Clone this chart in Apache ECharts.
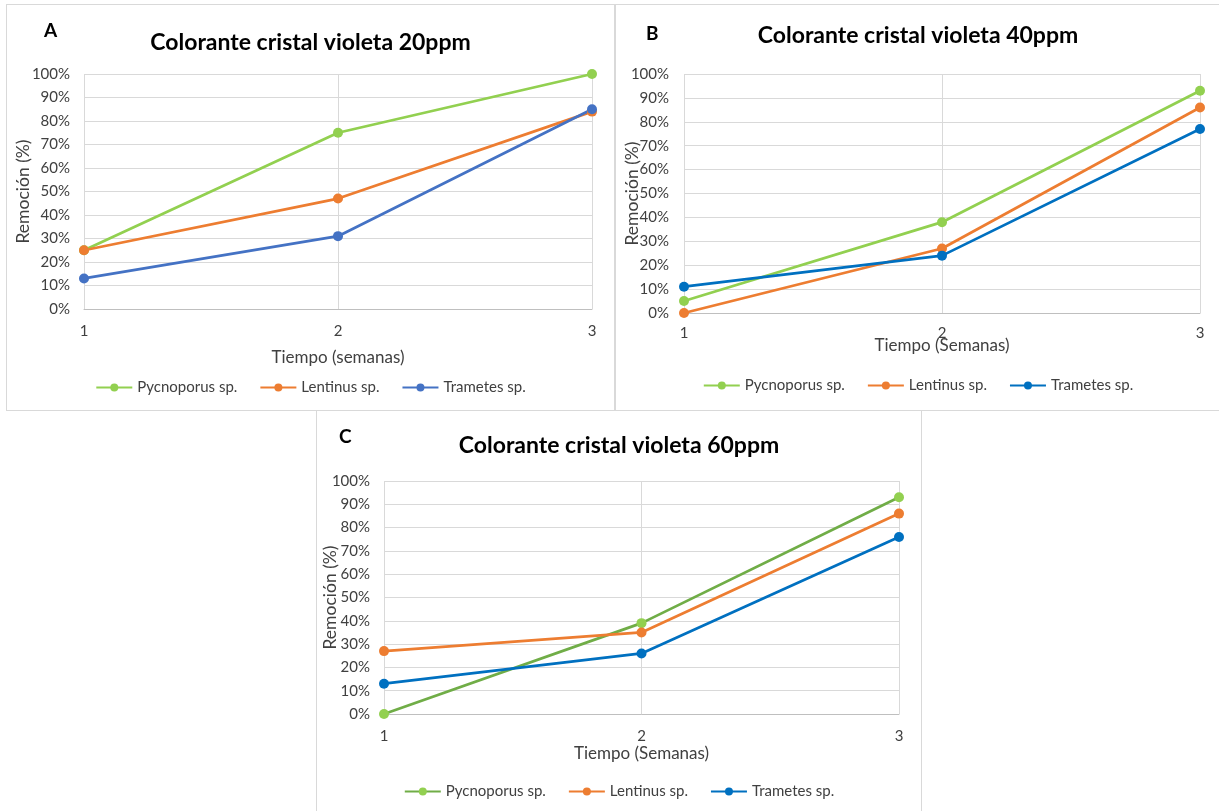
<!DOCTYPE html>
<html>
<head>
<meta charset="utf-8">
<script src="https://cdn.jsdelivr.net/npm/echarts@6/dist/echarts.min.js"></script>
<style>
html,body{margin:0;padding:0;background:#fff;width:1219px;height:811px;overflow:hidden;}
.panel{position:absolute;box-sizing:border-box;border:1px solid #d9d9d9;background:#fff;}
</style>
</head>
<body>
<div id="pA" class="panel" style="left:6px;top:4px;width:609px;height:407px;"></div>
<div id="pB" class="panel" style="left:615px;top:4px;width:606px;height:407px;"></div>
<div id="pC" class="panel" style="left:316px;top:410px;width:606px;height:403px;"></div>
<script>
// ---- data ----
const weeks = ['1', '2', '3'];
const seriesNames = ['Pycnoporus sp.', 'Lentinus sp.', 'Trametes sp.'];
const yMin = 0, yMax = 100, yStep = 10;

const pycnoA = [25, 75, 100];
const lentA  = [25, 47, 84];
const tramA  = [13, 31, 85];

const pycnoB = [5, 38, 93];
const lentB  = [0, 27, 86];
const tramB  = [11, 24, 77];

const pycnoC = [0, 39, 93];
const lentC  = [27, 35, 86];
const tramC  = [13, 26, 76];

const titles = ['Colorante cristal violeta 20ppm', 'Colorante cristal violeta 40ppm', 'Colorante cristal violeta 60ppm'];
const letters = ['A', 'B', 'C'];
const xNames = ['Tiempo (semanas)', 'Tiempo (Semanas)', 'Tiempo (Semanas)'];
const yName = 'Remoción (%)';

// ---- styling / layout ----
const FONT = 'Lato, "Open Sans", sans-serif';
const panels = [
  { id: 'pA', data: [pycnoA, lentA, tramA], lineColors: ['#92D050', '#ED7D31', '#4472C4'], dotColors: ['#92D050', '#ED7D31', '#4472C4'],
    grid: { left: 77, right: 22, top: 69, bottom: 101 }, titleTop: 21, letter: [44, 26], xGap: 40, labelMargin: 15, yMargin: 14, yGap: 52, legendTop: 370 },
  { id: 'pB', data: [pycnoB, lentB, tramB], lineColors: ['#92D050', '#ED7D31', '#0070C0'], dotColors: ['#92D050', '#ED7D31', '#0070C0'],
    grid: { left: 68, right: 20, top: 69, bottom: 97 }, titleTop: 14, letter: [37, 29], xGap: 24, labelMargin: 13, yMargin: 15, yGap: 43, legendTop: 368 },
  { id: 'pC', data: [pycnoC, lentC, tramC], lineColors: ['#70AD47', '#ED7D31', '#0070C0'], dotColors: ['#92D050', '#ED7D31', '#0070C0'],
    grid: { left: 67, right: 22, top: 70, bottom: 98 }, titleTop: 18, letter: [29, 26], xGap: 31, labelMargin: 15, yMargin: 14, yGap: 45, legendTop: 368 }
];

panels.forEach(function (p, i) {
  const chart = echarts.init(document.getElementById(p.id), null, { renderer: 'canvas' });
  const grid = Object.assign({ containLabel: false, outerBoundsMode: 'none' }, p.grid);
  chart.setOption({
    animation: false,
    textStyle: { fontFamily: FONT },
    title: {
      text: titles[i], left: 'center', top: p.titleTop,
      textStyle: { fontFamily: FONT, fontSize: 23, fontWeight: 'bold', color: '#000' }
    },
    graphic: [{
      type: 'text', left: p.letter[0] - 7, top: p.letter[1] - 10,
      style: { text: letters[i], font: 'bold 19px ' + FONT, fill: '#000' }
    }],
    legend: {
      data: seriesNames, left: 'center', top: p.legendTop,
      itemWidth: 36, itemHeight: 10, itemGap: 22,
      textStyle: { fontFamily: FONT, fontSize: 15, color: '#404040' }
    },
    grid: grid,
    xAxis: {
      type: 'category', data: weeks, boundaryGap: false,
      name: xNames[i], nameLocation: 'middle', nameGap: p.xGap, nameMoveOverlap: false,
      nameTextStyle: { fontFamily: FONT, fontSize: 17, color: '#404040' },
      axisLine: { show: true, lineStyle: { color: '#bfbfbf', width: 1 } },
      axisTick: { show: false },
      axisLabel: { margin: p.labelMargin, fontSize: 15, color: '#404040', fontFamily: FONT },
      splitLine: { show: true, lineStyle: { color: '#d9d9d9', width: 1 } }
    },
    yAxis: {
      type: 'value', min: yMin, max: yMax, interval: yStep,
      name: yName, nameLocation: 'middle', nameGap: p.yGap, nameRotate: 90, nameMoveOverlap: false,
      nameTextStyle: { fontFamily: FONT, fontSize: 17.5, color: '#404040' },
      axisLine: { show: false }, axisTick: { show: false },
      axisLabel: { margin: p.yMargin, fontSize: 15, color: '#404040', fontFamily: FONT, formatter: '{value}%' },
      splitLine: { show: true, lineStyle: { color: '#d9d9d9', width: 1 } }
    },
    series: p.data.map(function (arr, k) {
      return {
        name: seriesNames[k], type: 'line', data: arr,
        symbol: 'circle', symbolSize: 10,
        lineStyle: { color: p.lineColors[k], width: 2.75 },
        itemStyle: { color: p.dotColors[k] },
        emphasis: { disabled: true }
      };
    })
  });
});
</script>
</body>
</html>
